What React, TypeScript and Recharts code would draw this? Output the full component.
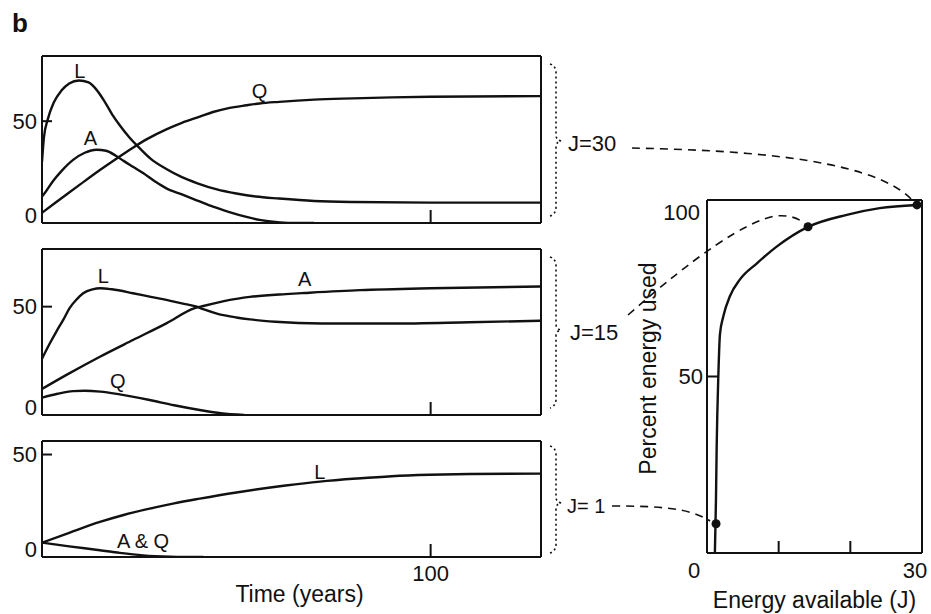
import { LineChart, Line, XAxis, YAxis, Label } from "recharts"

type Pt = [number, number]

// time (years), value — J = 30 panel
const l30: Pt[] = [[0, 30], [0.5, 42], [1.5, 51], [3, 59], [5, 65], [7, 68.5], [9.5, 70], [12, 69], [14, 65.5], [16, 60], [18, 53.5], [20, 48], [22.5, 42], [25, 37], [28, 31.5], [32, 26.5], [36, 22.5], [40, 19.5], [45, 16.5], [50, 14.5], [55, 13], [61, 12], [70, 10.8], [80, 10.3], [100, 10], [128.4, 10]]
const a30: Pt[] = [[0, 13], [1, 15.5], [3, 21], [5, 25.5], [8, 31], [11, 34.5], [14, 36], [16.5, 35.5], [19, 33], [21, 30.5], [23.5, 27.5], [26, 24.5], [29, 20.5], [32, 17], [36, 14], [40, 11], [44, 8], [48, 5.5], [52.6, 3], [56, 1.5], [60, 0.5], [64, 0], [70, 0]]
const q30: Pt[] = [[0, 5], [3, 9.3], [6.3, 14], [10, 19.2], [14.9, 26], [19.6, 32.2], [23.4, 37], [27, 41.2], [32, 46], [36, 49.2], [40.6, 52.2], [44, 54.5], [48, 56.4], [52.6, 57.8], [56, 58.7], [61, 59.5], [70, 60.6], [80, 61.2], [90, 61.7], [100, 62], [128.4, 62.3]]

// J = 15 panel
const l15: Pt[] = [[0, 26], [2, 33], [3.7, 38.5], [5.5, 44], [7.1, 49.3], [9, 53.5], [10.6, 56.2], [13, 58], [15, 58.5], [18, 58], [23.4, 56.2], [28, 54.5], [32, 53.1], [36, 51.5], [39.8, 50], [41.5, 48.8], [45, 46.8], [50, 45], [53.5, 44.1], [60, 43], [72, 42.2], [90, 42.2], [110, 42.8], [128.4, 43.5]]
const a15: Pt[] = [[0, 12], [6.3, 18.5], [14.9, 26.9], [23.4, 34.6], [32, 42.3], [39.3, 49.3], [41.5, 50.3], [44.3, 51.5], [48, 53], [53.5, 54.5], [62.7, 55.8], [67.6, 56.3], [81.8, 57.6], [100, 58.5], [128.4, 59.3]]
const q15: Pt[] = [[0, 8], [4, 9.8], [8, 11], [11, 11.2], [15, 10.8], [20, 9.5], [27.7, 6.9], [34, 4.5], [40.6, 2.3], [46, 0.8], [52, 0]]

// J = 1 panel
const l1: Pt[] = [[0, 7], [7, 11.8], [14.9, 17.1], [21, 20.5], [27.7, 23.6], [34, 26.2], [40.6, 28.5], [50, 31.5], [62.7, 34.9], [71.5, 36.8], [81.2, 38.3], [90, 39.4], [99.7, 40.1], [110, 40.5], [128.4, 40.7]]
const aq1: Pt[] = [[0, 7], [7, 5.2], [14.9, 3.3], [20, 2], [26, 0.8], [33, 0.2], [41.5, 0]]

// energy available (J) vs percent energy used
const energyJ = [1.1, 1.25, 1.35, 1.58, 1.81, 2.27, 3.21, 4.6, 6.93, 9.72, 14.1, 19.5, 24.1, 29.3]
const energyPct = [0, 15, 30, 50, 62, 67, 72.8, 77.5, 82, 86.8, 92.4, 95.8, 97.7, 98.6]
const markJ = [1.26, 14.1, 29.3]
const markPct = [8.3, 92.4, 98.6]

const timeTicks = [0, 100]
const panelTicks = [0, 50]
const energyTicks = [0, 10, 20, 30]
const percentTicks = [0, 50, 100]
const jLabels = ["J=30", "J=15", "J= 1"]

const T_MAX = 128.4
const ink = "#111"
const font = '"Liberation Sans", Arial, Helvetica, sans-serif'
const frameLine = { stroke: ink, strokeWidth: 2 }

const toRows = (pts: Pt[]) => pts.map(([t, v]) => ({ t, v }))
const energyRows = energyJ.map((j, i) => ({ j, p: energyPct[i] }))
const markRows = markJ.map((j, i) => ({ j, p: markPct[i] }))

type Series = { pts: Pt[]; text: string; at: number; dx: number; dy: number }

function curveLabel(text: string, at: number, dx: number, dy: number) {
  return (p: any) => {
    const x = p.x ?? p.viewBox?.x
    const y = p.y ?? p.viewBox?.y
    if (p.index !== at || x == null) return <g key={`n-${p.index}`} />
    return (
      <text key={`l-${p.index}`} x={x + dx} y={y + dy} textAnchor="middle" fontSize={20} fill={ink} fontFamily={font}>
        {text}
      </text>
    )
  }
}

const leftTick = (p: any) => {
  const { x, y, payload } = p
  const v = payload.value
  return (
    <g>
      {v > 0 && <line x1={x} x2={x + 10} y1={y} y2={y} stroke={ink} strokeWidth={2} />}
      <text x={x - 5} y={v === 0 ? y - 8 : y} textAnchor="end" dominantBaseline="central" fontSize={22} fill={ink} fontFamily={font}>
        {v}
      </text>
    </g>
  )
}

const timeTick = (labelled: boolean) => (p: any) => {
  const { x, y, payload } = p
  if (payload.value !== 100) return <g />
  return (
    <g>
      <line x1={x} x2={x} y1={y} y2={y - 13} stroke={ink} strokeWidth={2} />
      {labelled && (
        <text x={x} y={y + 16} textAnchor="middle" dominantBaseline="central" fontSize={22} fill={ink} fontFamily={font}>
          100
        </text>
      )}
    </g>
  )
}

const energyTick = (p: any) => {
  const { x, y, payload } = p
  const v = payload.value
  if (v === 10 || v === 20) return <line x1={x} x2={x} y1={y} y2={y - 12} stroke={ink} strokeWidth={2} />
  return (
    <text x={x + (v === 0 ? -13 : -7)} y={y + 17} textAnchor="middle" dominantBaseline="central" fontSize={22} fill={ink} fontFamily={font}>
      {v}
    </text>
  )
}

const percentTick = (p: any) => {
  const { x, y, payload } = p
  const v = payload.value
  if (v === 0) return <g />
  return (
    <g>
      {v === 50 && <line x1={x} x2={x + 11} y1={y} y2={y} stroke={ink} strokeWidth={2} />}
      <text x={x - (v === 100 ? 7 : 4)} y={y + (v === 100 ? 12 : 0)} textAnchor="end" dominantBaseline="central" fontSize={22} fill={ink} fontFamily={font}>
        {v}
      </text>
    </g>
  )
}

function Panel({ top, height, padTop, axisH, yMax, lines, timeLabel }: {
  top: number; height: number; padTop: number; axisH: number; yMax: number; lines: Series[]; timeLabel?: boolean
}) {
  return (
    <div style={{ position: "absolute", left: 0, top, width: 560, height }}>
      <LineChart width={560} height={height} margin={{ top: padTop, right: 18, bottom: 0, left: 0 }}>
        <XAxis dataKey="t" type="number" domain={[0, T_MAX]} allowDataOverflow ticks={timeTicks} interval={0}
          tickSize={0} tickMargin={0} tickLine={false} tick={timeTick(!!timeLabel)} height={axisH} axisLine={frameLine}>
          {timeLabel && (
            <Label content={(p: any) => {
              const vb = p.viewBox
              return (
                <text x={vb.x + vb.width / 2 + 8} y={vb.y + 37} textAnchor="middle" dominantBaseline="central" fontSize={23} fill={ink} fontFamily={font}>
                  Time (years)
                </text>
              )
            }} />
          )}
        </XAxis>
        <XAxis xAxisId="top" orientation="top" type="number" domain={[0, 1]} tick={false} tickLine={false} height={1} axisLine={frameLine} />
        <YAxis type="number" domain={[0, yMax]} allowDataOverflow ticks={panelTicks} interval={0}
          tickSize={0} tickMargin={0} tickLine={false} tick={leftTick} width={42} axisLine={frameLine} />
        <YAxis yAxisId="right" orientation="right" type="number" domain={[0, 1]} tick={false} tickLine={false} width={1} axisLine={frameLine} />
        {lines.map((s) => (
          <Line key={s.text} data={toRows(s.pts)} dataKey="v" type="monotone" stroke={ink} strokeWidth={2.4}
            dot={false} activeDot={false} isAnimationActive={false} label={curveLabel(s.text, s.at, s.dx, s.dy)} />
        ))}
      </LineChart>
    </div>
  )
}

function bracePath(y0: number, ym: number, y1: number) {
  const x = 556
  return `M ${x - 6} ${y0} Q ${x} ${y0 + 2} ${x} ${y0 + 9} L ${x} ${ym - 6} Q ${x} ${ym - 1} ${x + 5} ${ym} Q ${x} ${ym + 1} ${x} ${ym + 6} L ${x} ${y1 - 9} Q ${x} ${y1 - 2} ${x - 6} ${y1}`
}

export default function App() {
  return (
    <div style={{ position: "absolute", left: 0, top: 0, width: 931, height: 614, background: "#fff", fontFamily: font }}>
      <Panel top={40} height={200} padTop={15} axisH={17} yMax={82}
        lines={[
          { pts: l30, text: "L", at: 6, dx: 1, dy: -2 },
          { pts: a30, text: "A", at: 6, dx: -6, dy: -5 },
          { pts: q30, text: "Q", at: 14, dx: 0, dy: -5 },
        ]} />
      <Panel top={235} height={200} padTop={13} axisH={20} yMax={76.6}
        lines={[
          { pts: l15, text: "L", at: 8, dx: 3, dy: -5 },
          { pts: a15, text: "A", at: 11, dx: 0, dy: -7 },
          { pts: q15, text: "Q", at: 5, dx: -2, dy: -6 },
        ]} />
      <Panel top={425} height={189} padTop={15} axisH={57} yMax={56.6} timeLabel
        lines={[
          { pts: l1, text: "L", at: 9, dx: 0, dy: -3 },
          { pts: aq1, text: "A & Q", at: 4, dx: 0, dy: -7 },
        ]} />

      <div style={{ position: "absolute", left: 600, top: 180, width: 331, height: 434 }}>
        <LineChart width={331} height={434} margin={{ top: 19, right: 8, bottom: 0, left: 0 }}>
          <XAxis dataKey="j" type="number" domain={[0, 30]} allowDataOverflow ticks={energyTicks} interval={0}
            tickSize={0} tickMargin={0} tickLine={false} tick={energyTick} height={61} axisLine={frameLine}>
            <Label content={(p: any) => {
              const vb = p.viewBox
              return (
                <text x={vb.x + vb.width / 2} y={vb.y + 47} textAnchor="middle" dominantBaseline="central" fontSize={23} fill={ink} fontFamily={font}>
                  Energy available (J)
                </text>
              )
            }} />
          </XAxis>
          <XAxis xAxisId="top" orientation="top" type="number" domain={[0, 1]} tick={false} tickLine={false} height={1} axisLine={frameLine} />
          <YAxis type="number" domain={[0, 100]} allowDataOverflow ticks={percentTicks} interval={0}
            tickSize={0} tickMargin={0} tickLine={false} tick={percentTick} width={107} axisLine={frameLine}>
            <Label content={(p: any) => {
              const vb = p.viewBox
              const cx = vb.x + vb.width - 59
              const cy = vb.y + vb.height / 2 - 8
              return (
                <text x={cx} y={cy} transform={`rotate(-90 ${cx} ${cy})`} textAnchor="middle" dominantBaseline="central" fontSize={23} fill={ink} fontFamily={font}>
                  Percent energy used
                </text>
              )
            }} />
          </YAxis>
          <YAxis yAxisId="right" orientation="right" type="number" domain={[0, 1]} tick={false} tickLine={false} width={1} axisLine={frameLine} />
          <Line data={energyRows} dataKey="p" type="monotone" stroke={ink} strokeWidth={2.4} dot={false} activeDot={false} isAnimationActive={false} />
          <Line data={markRows} dataKey="p" stroke="none" dot={{ r: 4.5, fill: ink, stroke: "none" }} activeDot={false} isAnimationActive={false} />
        </LineChart>
      </div>

      <svg width={931} height={614} style={{ position: "absolute", left: 0, top: 0, pointerEvents: "none" }}>
        <text x={12} y={32} fontSize={26} fontWeight="bold" fill={ink} fontFamily={font}>b</text>
        <g fill="none" stroke={ink} strokeWidth={1.6} strokeDasharray="2 3">
          <path d={bracePath(64, 141, 216)} />
          <path d={bracePath(257, 330, 408)} />
          <path d={bracePath(446, 503, 553)} />
        </g>
        <g fontSize={22} fill={ink} fontFamily={font}>
          <text x={568} y={151}>{jLabels[0]}</text>
          <text x={570} y={340}>{jLabels[1]}</text>
          <text x={567} y={513} fontSize={20}>{jLabels[2]}</text>
        </g>
        <g fill="none" stroke={ink} strokeWidth={1.6} strokeDasharray="8 6">
          <path d="M 632 148 C 720 150 870 155 912 200" />
          <path d="M 628 315 Q 730 225 775 216 Q 795 214 806 225" />
          <path d="M 612 506 C 660 506 690 508 710 521" />
        </g>
      </svg>
    </div>
  )
}
